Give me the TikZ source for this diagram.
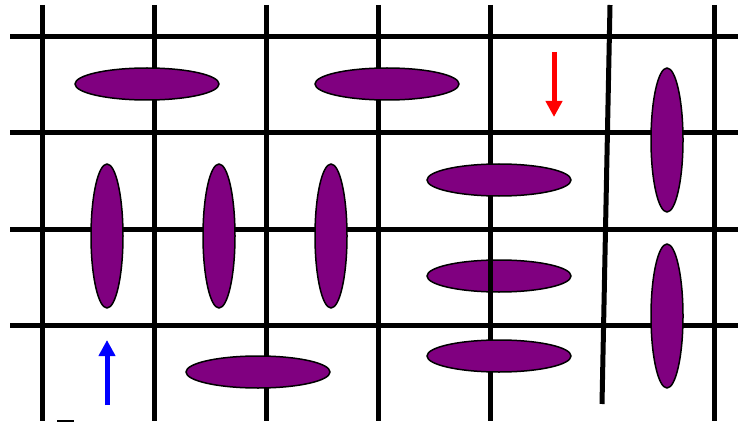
\documentclass[tikz,border=0pt]{standalone}
\usetikzlibrary{shapes.geometric,arrows.meta}
\definecolor{cellpurple}{RGB}{128,0,128}
\tikzset{
  gridline/.style={line width=5pt, black},
  hcell/.style={ellipse, draw=black, line width=1.5pt, fill=cellpurple, minimum width=144pt, minimum height=32pt, inner sep=0pt},
  vcell/.style={ellipse, draw=black, line width=1.5pt, fill=cellpurple, minimum width=32pt, minimum height=144pt, inner sep=0pt},
  flowarrow/.style={line width=5pt, -{Triangle[width=16pt,length=16pt]}}
}
\begin{document}
\begin{tikzpicture}[x=1pt,y=-1pt]
\useasboundingbox (0,0) rectangle (738,422);
% ellipse lying under the grid
\node[hcell] (e6) at (499,276) {};
% grid
\foreach \yy in {37,133,229,325} \draw[gridline] (10,\yy) -- (738,\yy);
\foreach \xx in {42,154,266,378,490} \draw[gridline] (\xx,5) -- (\xx,421);
\draw[gridline] (610,5) -- (602,404);
\draw[gridline] (714,5) -- (714,421);
% small bar at bottom left
\draw[line width=2pt] (57,421) -- (74,421);
% ellipses over the grid
\node[hcell] (e1) at (147,84) {};
\node[hcell] (e2) at (387,84) {};
\node[hcell] (e5) at (499,180) {};
\node[hcell] (e7) at (499,356) {};
\node[hcell] (e8) at (258,372) {};
\node[vcell] (v1) at (107,236) {};
\node[vcell] (v2) at (219,236) {};
\node[vcell] (v3) at (331,236) {};
\node[vcell] (v4) at (667,140) {};
\node[vcell] (v5) at (667,316) {};
% arrows
\coordinate (rs) at (554,52);
\coordinate (re) at (554,117);
\draw[flowarrow, red] (rs) -- (re);
\coordinate (bs) at (107,405);
\coordinate (be) at (107,340);
\draw[flowarrow, blue] (bs) -- (be);
\end{tikzpicture}
\end{document}
